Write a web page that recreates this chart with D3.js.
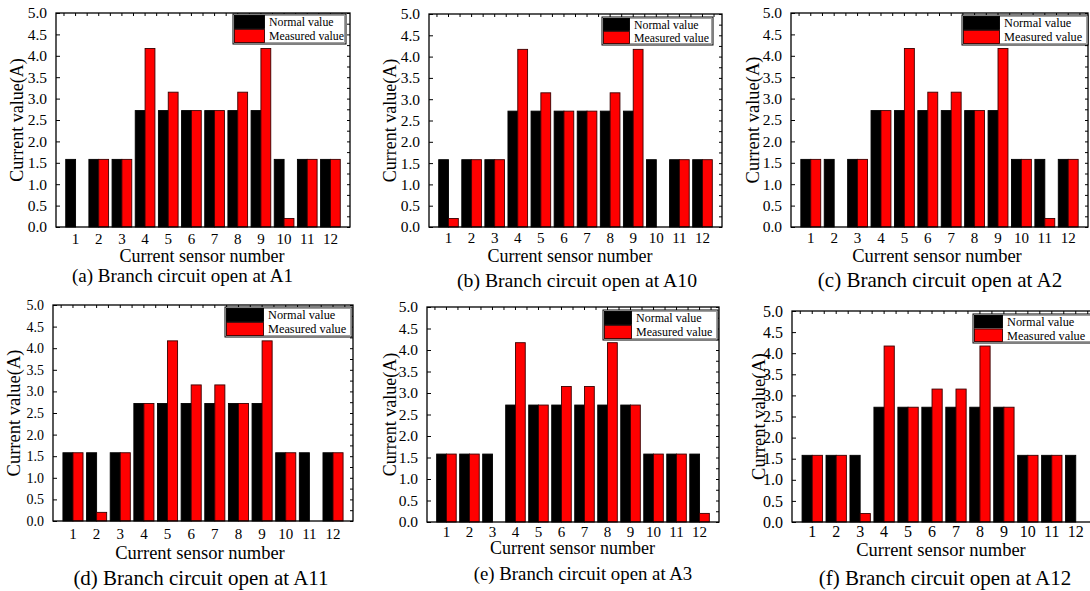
<!DOCTYPE html>
<html>
<head>
<meta charset="utf-8">
<script src="https://cdn.jsdelivr.net/npm/d3@7"></script>
<style>
  html, body { margin: 0; padding: 0; background: #fff; }
  svg { display: block; }
  svg text { font-family: "Liberation Serif", "Times New Roman", Tinos, "DejaVu Serif", serif !important; fill: #000; }
</style>
</head>
<body>
<svg id="chart" width="1090" height="591"></svg>
<script>
// ---------------- DATA ----------------
const sensors = [1, 2, 3, 4, 5, 6, 7, 8, 9, 10, 11, 12];
const seriesNames = ["Normal value", "Measured value"];
const normalValues = [1.58, 1.58, 1.58, 2.72, 2.72, 2.72, 2.72, 2.72, 2.72, 1.58, 1.58, 1.58];
const measuredA1  = [0, 1.58, 1.58, 4.17, 3.15, 2.72, 2.72, 3.15, 4.17, 0.2, 1.58, 1.58];
const measuredA10 = [0.2, 1.58, 1.58, 4.17, 3.15, 2.72, 2.72, 3.15, 4.17, 0, 1.58, 1.58];
const measuredA2  = [1.58, 0, 1.58, 2.72, 4.17, 3.15, 3.15, 2.72, 4.17, 1.58, 0.2, 1.58];
const measuredA11 = [1.58, 0.2, 1.58, 2.72, 4.17, 3.15, 3.15, 2.72, 4.17, 1.58, 0, 1.58];
const measuredA3  = [1.58, 1.58, 0, 4.17, 2.72, 3.15, 3.15, 4.17, 2.72, 1.58, 1.58, 0.2];
const measuredA12 = [1.58, 1.58, 0.2, 4.17, 2.72, 3.15, 3.15, 4.17, 2.72, 1.58, 1.58, 0];
const captions = [
  "(a) Branch circuit open at A1",
  "(b) Branch circuit open at A10",
  "(c) Branch circuit open at A2",
  "(d) Branch circuit open at A11",
  "(e) Branch circuit open at A3",
  "(f) Branch circuit open at A12"
];
const yTicks = [0, 0.5, 1.0, 1.5, 2.0, 2.5, 3.0, 3.5, 4.0, 4.5, 5.0];
const yTitle = "Current value(A)";
const xTitle = "Current sensor number";

// ---------------- LAYOUT ----------------
const FONT = '"Liberation Serif", "Times New Roman", Tinos, "DejaVu Serif", serif';
const measuredSets = [measuredA1, measuredA10, measuredA2, measuredA11, measuredA3, measuredA12];
const layouts = [
  { plot: [56, 13, 350, 227],  yfs: 15.5, xfs: 15, xtOff: 17, ytX: 17,  tfs: 18, tX: 202, tY: 262, cfs: 19,   cX: 182.5, cY: 282, leg: [233, 14, 346, 44],  legTx: 269,  lfs: 11.8 },
  { plot: [429, 14, 722, 227], yfs: 15.5, xfs: 15, xtOff: 16, ytX: 390, tfs: 18, tX: 570, tY: 262, cfs: 19.7, cX: 577,   cY: 287, leg: [602, 17, 713, 45], legTx: 634,  lfs: 11.8 },
  { plot: [791, 13, 1088, 227],yfs: 15.5, xfs: 15, xtOff: 16, ytX: 753, tfs: 18.5, tX: 937, tY: 262, cfs: 21, cX: 940,   cY: 287, leg: [962, 15, 1088, 45],legTx: 1004, lfs: 12.3 },
  { plot: [53, 305, 353, 521], yfs: 14,   xfs: 15, xtOff: 18, ytX: 14,  tfs: 18.5, tX: 200, tY: 559, cfs: 21, cX: 201,   cY: 585, leg: [225, 307, 352, 337],legTx: 268, lfs: 12.3 },
  { plot: [427, 307, 719, 522],yfs: 15.5, xfs: 15, xtOff: 15, ytX: 390, tfs: 18, tX: 572.5, tY: 554, cfs: 18.8, cX: 583, cY: 580, leg: [603, 310, 718, 340],legTx: 636, lfs: 12 },
  { plot: [792, 311, 1096, 522],yfs: 16,  xfs: 16, xtOff: 15, ytX: 759, tfs: 18.5, tX: 941, tY: 556, cfs: 21, cX: 945,   cY: 585, leg: [973, 314, 1096, 343],legTx: 1007, lfs: 12.3 }
];
const colors = ["#000000", "#ff0000"];
const strokes = ["#000000", "#3a0000"];

const svg = d3.select("#chart");

layouts.forEach((L, i) => {
  const [x0, y0, x1, y1] = L.plot;
  const g = svg.append("g").attr("font-family", FONT);
  const series = [normalValues, measuredSets[i]];

  const x = d3.scaleBand().domain(sensors).range([x0, x1]).paddingInner(0.15).paddingOuter(0.42);
  const xs = d3.scaleBand().domain([0, 1]).range([0, x.bandwidth()]).padding(0);
  const y = d3.scaleLinear().domain([0, 5]).range([y1, y0]);

  // bars
  sensors.forEach((s, k) => {
    series.forEach((vals, j) => {
      const v = vals[k];
      if (v <= 0) return;
      g.append("rect")
        .attr("x", x(s) + xs(j))
        .attr("y", y(v))
        .attr("width", xs.bandwidth())
        .attr("height", y(0) - y(v))
        .attr("fill", colors[j])
        .attr("stroke", strokes[j])
        .attr("stroke-width", 0.9);
    });
  });

  // frame
  g.append("rect").attr("x", x0).attr("y", y0).attr("width", x1 - x0).attr("height", y1 - y0)
    .attr("fill", "none").attr("stroke", "#000").attr("stroke-width", 1.3);

  // left axis (ticks inward)
  const yAxis = d3.axisLeft(y).tickValues(yTicks).tickFormat(d3.format(".1f")).tickSize(-4).tickPadding(9);
  const ya = g.append("g").attr("transform", `translate(${x0},0)`).call(yAxis).attr("font-family", FONT);
  ya.select(".domain").remove();
  ya.selectAll("line").attr("stroke", "#000").attr("stroke-width", 1);
  ya.selectAll("text").attr("font-family", FONT).style("font-size", L.yfs + "px").attr("fill", "#000");

  // right axis minor ticks inward
  const rAxis = d3.axisRight(y).tickValues(d3.range(0, 5.001, 0.25)).tickSize(-3).tickFormat("");
  const ra = g.append("g").attr("transform", `translate(${x1},0)`).call(rAxis);
  ra.select(".domain").remove();
  ra.selectAll("line").attr("stroke", "#000");

  // top ticks inward at half-step
  const step = x.step();
  const topTicks = [];
  sensors.forEach(s => {
    topTicks.push(x(s) + x.bandwidth() / 2);
    topTicks.push(x(s) - (step - x.bandwidth()) / 2);
  });
  topTicks.push(x(sensors[sensors.length - 1]) + x.bandwidth() + (step - x.bandwidth()) / 2);
  g.selectAll(null).data(topTicks.filter(t => t > x0 + 1 && t < x1 - 1)).enter().append("line")
    .attr("x1", d => d).attr("x2", d => d).attr("y1", y0).attr("y2", y0 + 3)
    .attr("stroke", "#000").attr("stroke-width", 1);

  // x tick labels
  g.selectAll(null).data(sensors).enter().append("text")
    .attr("x", d => x(d) + x.bandwidth() / 2)
    .attr("y", y1 + L.xtOff)
    .attr("text-anchor", "middle")
    .style("font-size", L.xfs + "px")
    .text(d => d);

  // axis titles
  g.append("text").attr("x", L.tX).attr("y", L.tY).attr("text-anchor", "middle")
    .style("font-size", L.tfs + "px").text(xTitle);
  g.append("text")
    .attr("transform", `translate(${L.ytX},${(y0 + y1) / 2}) rotate(-90)`)
    .attr("text-anchor", "middle").attr("dy", "0.35em")
    .style("font-size", L.tfs + "px").text(yTitle);

  // caption
  g.append("text").attr("x", L.cX).attr("y", L.cY).attr("text-anchor", "middle")
    .style("font-size", L.cfs + "px").text(captions[i]);

  // legend
  const [lx0, ly0, lx1, ly1] = L.leg;
  const lg = g.append("g");
  lg.append("rect").attr("x", lx0).attr("y", ly0).attr("width", lx1 - lx0).attr("height", ly1 - ly0)
    .attr("fill", "#fff").attr("stroke", "#000").attr("stroke-width", 1);
  lg.append("rect").attr("x", lx0 + 1.5).attr("y", ly0 + 1.5).attr("width", lx1 - lx0 - 3).attr("height", ly1 - ly0 - 3)
    .attr("fill", "none").attr("stroke", "#888").attr("stroke-width", 0.8);
  const rowH = (ly1 - ly0 - 2) / 2;
  const swW = L.legTx - lx0 - 6;
  seriesNames.forEach((name, j) => {
    const ry = ly0 + 1 + j * rowH;
    lg.append("rect").attr("x", lx0 + 1.5).attr("y", ry + 0.5).attr("width", swW).attr("height", rowH - 1)
      .attr("fill", colors[j]).attr("stroke", strokes[j]).attr("stroke-width", 0.9);
    lg.append("text").attr("x", L.legTx).attr("y", ry + rowH / 2).attr("dy", "0.35em")
      .style("font-size", L.lfs + "px").text(name);
  });
});
</script>
</body>
</html>
